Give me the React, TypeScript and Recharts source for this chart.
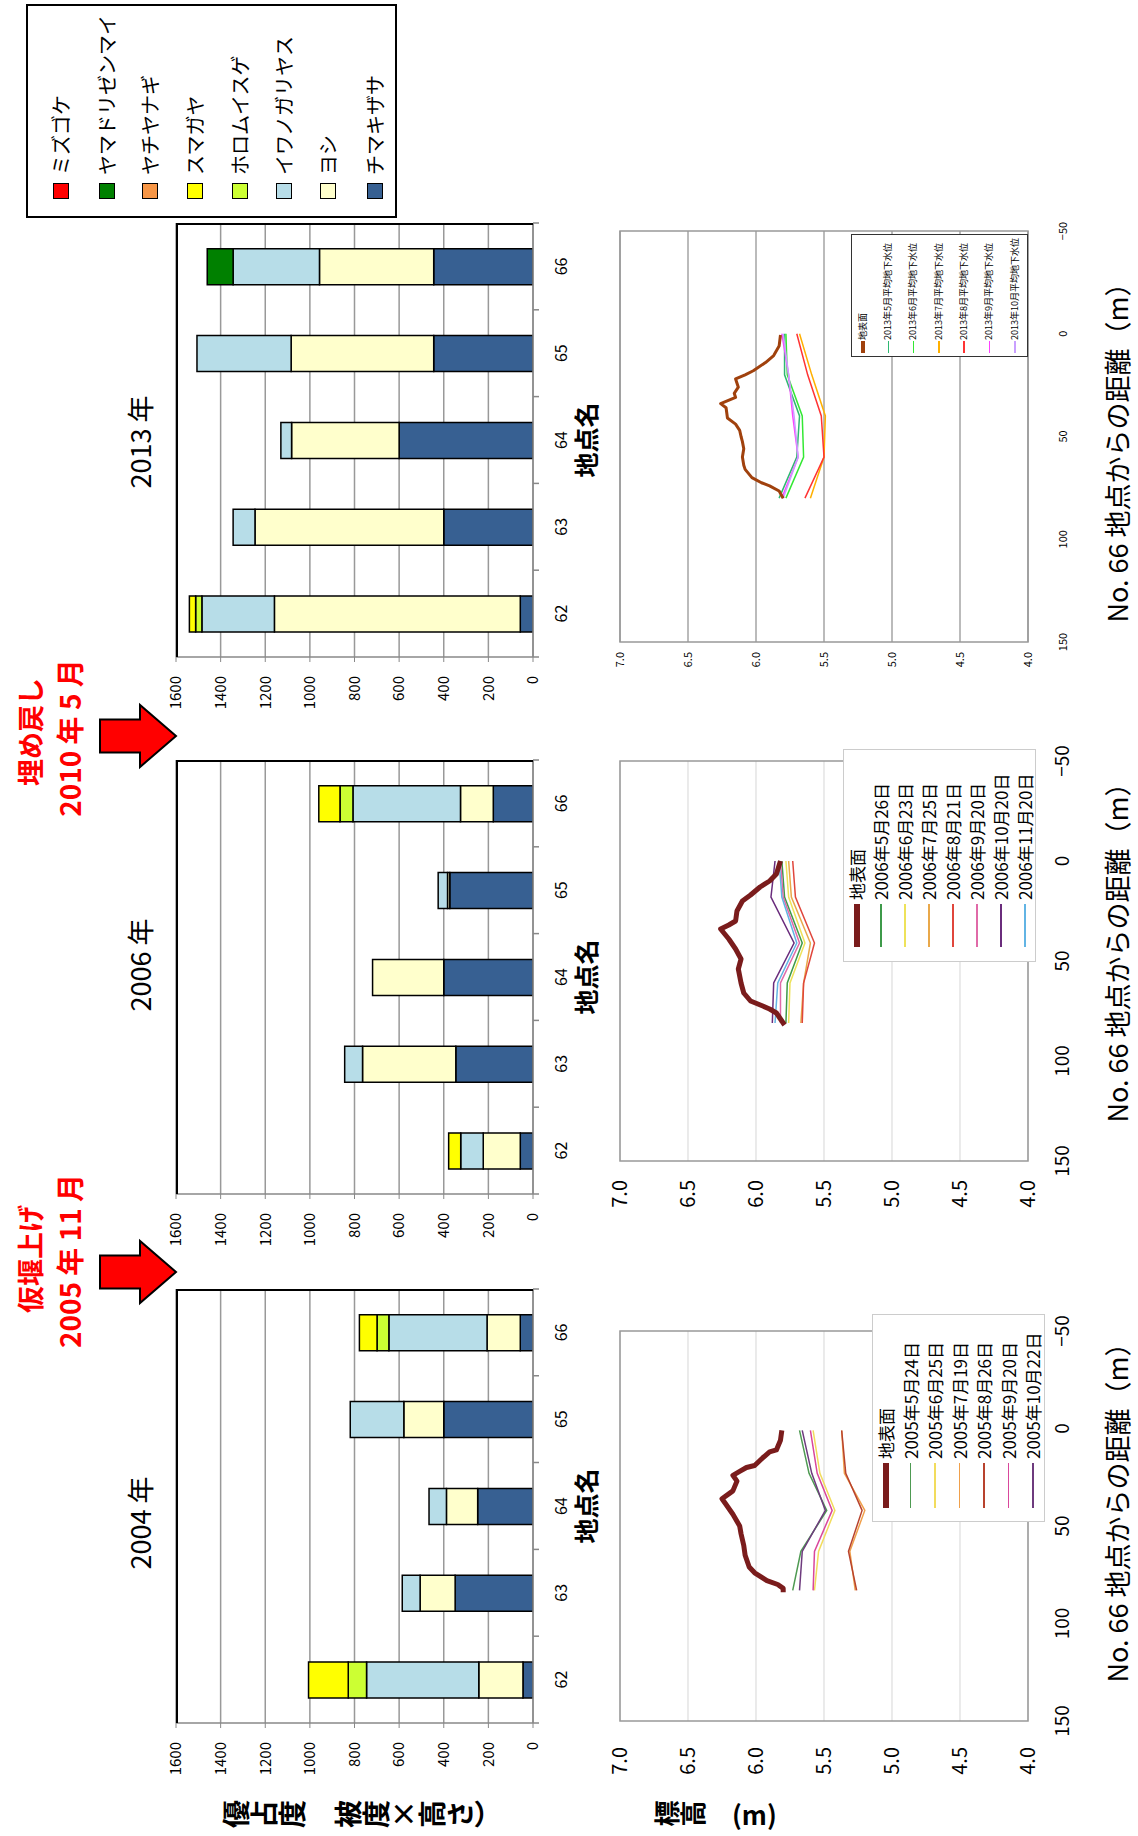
import React from 'react';
import { BarChart, Bar, LineChart, Line, XAxis, YAxis, CartesianGrid, ReferenceArea } from 'recharts';

const FONT = '"Noto Sans CJK JP", "Noto Sans", sans-serif';

// ---- vegetation cover (優占度) ----
const SITES = ['62', '63', '64', '65', '66'];
// stack order, from the base of each bar
const SPECIES = ['チマキザサ', 'ヨシ', 'イワノガリヤス', 'ホロムイスゲ', 'スマガヤ', 'ヤチヤナギ', 'ヤマドリゼンマイ', 'ミズゴケ'];
const SPECIES_COLORS = ['#376092', '#FFFFCC', '#B7DDE8', '#CCFF33', '#FFFF00', '#F79646', '#008000', '#FF0000'];

const COVER_2004 = [
  [45, 349, 248, 400, 57],
  [198, 157, 140, 179, 149],
  [503, 80, 78, 240, 440],
  [82, 0, 0, 0, 53],
  [178, 0, 0, 0, 79],
  [0, 0, 0, 0, 0],
  [0, 0, 0, 0, 0],
  [0, 0, 0, 0, 0],
];
const COVER_2006 = [
  [57, 346, 400, 373, 178],
  [166, 418, 319, 10, 147],
  [101, 80, 0, 42, 482],
  [0, 0, 0, 0, 58],
  [54, 0, 0, 0, 95],
  [0, 0, 0, 0, 0],
  [0, 0, 0, 0, 0],
  [0, 0, 0, 0, 0],
];
const COVER_2013 = [
  [57, 400, 600, 445, 445],
  [1102, 846, 482, 639, 512],
  [325, 98, 48, 422, 387],
  [28, 0, 0, 0, 0],
  [28, 0, 0, 0, 0],
  [0, 0, 0, 0, 0],
  [0, 0, 0, 0, 116],
  [0, 0, 0, 0, 0],
];
const COVER_TICKS = [0, 200, 400, 600, 800, 1000, 1200, 1400, 1600];

// ---- ground surface & groundwater (標高) ----
const DIST_TICKS = [-50, 0, 50, 100, 150];
const LEVEL_TICKS = [4, 4.5, 5, 5.5, 6, 6.5, 7];

const GROUND_D_2005 = [1, 6, 11, 12, 15, 19, 20, 22, 24, 27, 32, 33, 36, 39, 44, 50, 54, 60, 65, 71, 74, 78, 80, 82, 84];
const GROUND_V_2005 = [5.81, 5.82, 5.85, 5.9, 5.95, 6.01, 6.07, 6.12, 6.17, 6.14, 6.17, 6.19, 6.25, 6.22, 6.17, 6.12, 6.11, 6.09, 6.08, 6.05, 6.01, 5.92, 5.84, 5.8, 5.8];
const WELL_D_2005 = [1, 23, 42, 63, 83];
const LEVEL_NAMES_2005 = ['2005年5月24日', '2005年6月25日', '2005年7月19日', '2005年8月26日', '2005年9月20日', '2005年10月22日'];
const LEVEL_2005 = [
  [5.68, 5.61, 5.48, 5.67, 5.73],
  [5.58, 5.53, 5.42, 5.54, 5.57],
  [5.37, 5.35, 5.2, 5.31, 5.27],
  [5.37, 5.34, 5.22, 5.32, 5.26],
  [5.6, 5.55, 5.44, 5.57, 5.58],
  [5.66, 5.59, 5.49, 5.66, 5.68],
];
const COLORS_2005 = ['#4E9A52', '#F2DC5D', '#F0A04B', '#B8432E', '#D9479C', '#6E3B7E'];

const GROUND_D_2006 = [0, 6.5, 10, 13, 17, 20, 25, 30, 32, 34, 39, 44, 49, 54, 61, 66, 70, 72.5, 74, 76, 79, 82];
const GROUND_V_2006 = [5.82, 5.85, 5.9, 5.97, 6.04, 6.1, 6.14, 6.15, 6.2, 6.26, 6.2, 6.15, 6.11, 6.13, 6.11, 6.09, 6.04, 5.95, 5.9, 5.85, 5.82, 5.79];
const WELL_D_2006 = [0, 18, 41, 61, 81];
const LEVEL_NAMES_2006 = ['2006年5月26日', '2006年6月23日', '2006年7月25日', '2006年8月21日', '2006年9月20日', '2006年10月20日', '2006年11月20日'];
const LEVEL_2006 = [
  [5.81, 5.79, 5.66, 5.77, 5.78],
  [5.78, 5.76, 5.64, 5.75, 5.76],
  [5.76, 5.74, 5.6, 5.65, 5.67],
  [5.73, 5.71, 5.57, 5.65, 5.66],
  [5.82, 5.8, 5.68, 5.82, 5.82],
  [5.86, 5.89, 5.72, 5.87, 5.88],
  [5.83, 5.81, 5.7, 5.84, 5.86],
];
const COLORS_2006 = ['#3E9A4A', '#EEE25A', '#E9A84A', '#E0463C', '#E06AA8', '#6A2C7C', '#62B4E4'];

const GROUND_D_2013 = [0.6, 6, 10.6, 14, 18, 20, 22, 26, 29, 31, 34, 36, 41, 44, 47, 50, 52.5, 56, 60, 64, 66, 70, 72.5, 74, 76.5, 80];
const GROUND_V_2013 = [5.82, 5.83, 5.87, 5.93, 6.02, 6.08, 6.15, 6.13, 6.16, 6.15, 6.26, 6.22, 6.21, 6.15, 6.12, 6.11, 6.1, 6.09, 6.1, 6.09, 6.08, 6.03, 5.96, 5.9, 5.83, 5.8];
const WELL_D_2013 = [0, 20, 40, 60, 80];
const LEVEL_NAMES_2013 = ['2013年5月平均地下水位', '2013年6月平均地下水位', '2013年7月平均地下水位', '2013年8月平均地下水位', '2013年9月平均地下水位', '2013年10月平均地下水位'];
const LEVEL_2013 = [
  [5.79, 5.79, 5.68, 5.7, 5.83],
  [5.78, 5.77, 5.66, 5.65, 5.78],
  [5.68, 5.59, 5.49, 5.5, 5.6],
  [5.7, 5.62, 5.52, 5.5, 5.64],
  [5.81, 5.76, 5.73, 5.69, 5.81],
  [5.8, 5.76, 5.72, 5.69, 5.8],
];
const COLORS_2013 = ['#2EB872', '#33E833', '#FFB000', '#FF3333', '#FF40FF', '#C9A0FF'];

// ---- layout (landscape, rotated afterwards) ----
const LAND_W = 1836;
const LAND_H = 1138;
const BAR_TOP = 176;
const BAR_H = 357;
const BAR_W = 434;
const BAR_YW = 60;
const BAR_MT = 22;
const LV_TOP = 620;
const LV_H = 408;
const LV_MT = 26;

const toRows = (cover: number[][]) =>
  SITES.map((site, i) => {
    const row: Record<string, string | number | null> = { site };
    cover.forEach((vals, k) => {
      row[`s${k}`] = vals[i] > 0 ? vals[i] : null;
    });
    return row;
  });

const SiteTick = (props: any) => {
  const { x, y, payload, index } = props;
  const half = BAR_W / SITES.length / 2;
  return (
    <g>
      <line x1={x - half} x2={x - half} y1={y - 8} y2={y - 2} stroke="#888" strokeWidth={1.5} />
      {index === SITES.length - 1 && (
        <line x1={x + half} x2={x + half} y1={y - 8} y2={y - 2} stroke="#888" strokeWidth={1.5} />
      )}
      <text x={x} y={y + 19} textAnchor="middle" dominantBaseline="central" fontSize={16} fontFamily={FONT} fill="#000">
        {payload.value}
      </text>
    </g>
  );
};

function CoverChart({ cover, plotLeft }: { cover: number[][]; plotLeft: number }) {
  const data = toRows(cover);
  return (
    <div style={{ position: 'absolute', left: plotLeft - 10 - BAR_YW, top: BAR_TOP - BAR_MT }}>
      <BarChart
        width={10 + BAR_YW + BAR_W + 10}
        height={BAR_MT + BAR_H + 30 + 10}
        data={data}
        margin={{ top: BAR_MT, right: 10, bottom: 10, left: 10 }}
        barSize={36}
      >
        <CartesianGrid vertical={false} stroke="#999" strokeWidth={1.5} />
        <XAxis
          dataKey="site"
          height={30}
          interval={0}
          axisLine={{ stroke: '#888', strokeWidth: 1.5 }}
          tickLine={false}
          tickSize={6}
          tickMargin={2}
          tick={<SiteTick />}
        />
        <YAxis
          domain={[0, 1600]}
          ticks={COVER_TICKS}
          width={BAR_YW}
          allowDataOverflow
          axisLine={{ stroke: '#888', strokeWidth: 1.5 }}
          tickLine={{ stroke: '#888' }}
          tickSize={5}
          tickMargin={14}
          tick={{ fontSize: 15, fill: '#000', fontFamily: FONT }}
        />
        {SPECIES.map((name, k) => (
          <Bar
            key={name}
            dataKey={`s${k}`}
            name={name}
            stackId="a"
            fill={SPECIES_COLORS[k]}
            stroke="#000"
            strokeWidth={1.5}
            isAnimationActive={false}
          />
        ))}
      </BarChart>
      <div
        style={{
          position: 'absolute',
          left: 10 + BAR_YW,
          top: BAR_MT,
          width: BAR_W,
          height: BAR_H,
          borderTop: '2px solid #000',
          borderRight: '2px solid #000',
          boxSizing: 'border-box',
          pointerEvents: 'none',
        }}
      />
    </div>
  );
}

const fmtDist = (d: number) => (d < 0 ? `−${Math.abs(d)}` : String(d));

interface LevelProps {
  plotLeft: number;
  plotWidth: number;
  groundD: number[];
  groundV: number[];
  groundColor: string;
  groundWidth: number;
  wellD: number[];
  levels: number[][];
  names: string[];
  colors: string[];
  small?: boolean;
  yMargin: number;
}

function LevelChart(p: LevelProps) {
  const ground = p.groundD.map((d, i) => ({ d, v: p.groundV[i] }));
  const YW = 70;
  const MR = 30;
  const fs = p.small ? 11 : 20;
  return (
    <div style={{ position: 'absolute', left: p.plotLeft - 10 - YW, top: LV_TOP - LV_MT }}>
      <LineChart width={10 + YW + p.plotWidth + MR} height={LV_MT + LV_H + 60} margin={{ top: LV_MT, right: MR, bottom: 0, left: 10 }}>
        <CartesianGrid vertical={false} stroke={p.small ? '#bbb' : '#ddd'} strokeWidth={p.small ? 2 : 1.2} />
        <ReferenceArea x1={-50} x2={150} y1={4} y2={7} fill="none" stroke="#999" strokeWidth={1.5} />
        <XAxis
          type="number"
          dataKey="d"
          domain={[-50, 150]}
          ticks={DIST_TICKS}
          reversed
          allowDataOverflow
          height={60}
          axisLine={false}
          tickLine={false}
          tickMargin={p.small ? 25 : 22}
          tick={{ fontSize: p.small ? 11 : 19, fill: '#000', fontFamily: FONT }}
          tickFormatter={fmtDist}
        />
        <YAxis
          type="number"
          domain={[4, 7]}
          ticks={LEVEL_TICKS}
          width={YW}
          allowDataOverflow
          axisLine={false}
          tickLine={false}
          tickMargin={p.yMargin}
          tick={{ fontSize: fs, fill: '#000', fontFamily: FONT }}
          tickFormatter={(v: number) => v.toFixed(1)}
        />
        {p.levels.map((vals, k) => (
          <Line
            key={p.names[k]}
            name={p.names[k]}
            data={p.wellD.map((d, i) => ({ d, v: vals[i] }))}
            dataKey="v"
            type="linear"
            stroke={p.colors[k]}
            strokeWidth={1.5}
            dot={false}
            isAnimationActive={false}
          />
        ))}
        <Line
          name="地表面"
          data={ground}
          dataKey="v"
          type="linear"
          stroke={p.groundColor}
          strokeWidth={p.groundWidth}
          strokeLinejoin="round"
          dot={false}
          isAnimationActive={false}
        />
      </LineChart>
    </div>
  );
}

interface LegendProps {
  x: number;
  y: number;
  w: number;
  h: number;
  rowStart: number;
  rowGap: number;
  sampleX: number;
  sampleW: number;
  textX: number;
  fontSize: number;
  border: string;
  names: string[];
  colors: string[];
  widths: number[];
}

function LevelLegend(l: LegendProps) {
  return (
    <div
      style={{
        position: 'absolute',
        left: l.x,
        top: l.y,
        width: l.w,
        height: l.h,
        border: l.border,
        background: '#fff',
        boxSizing: 'border-box',
      }}
    >
      {l.names.map((name, i) => {
        const cy = l.rowStart + i * l.rowGap;
        return (
          <React.Fragment key={name}>
            <div
              style={{
                position: 'absolute',
                left: l.sampleX,
                top: cy - l.widths[i] / 2,
                width: l.sampleW,
                height: l.widths[i],
                background: l.colors[i],
              }}
            />
            <div
              style={{
                position: 'absolute',
                left: l.textX,
                top: cy - l.fontSize * 0.7,
                height: l.fontSize * 1.4,
                lineHeight: `${l.fontSize * 1.4}px`,
                fontSize: l.fontSize,
                whiteSpace: 'nowrap',
                color: '#000',
              }}
            >
              {name}
            </div>
          </React.Fragment>
        );
      })}
    </div>
  );
}

function Arrow({ cx }: { cx: number }) {
  return (
    <svg style={{ position: 'absolute', left: cx - 40, top: 98 }} width={80} height={80}>
      <polygon points="23.5,2 56.5,2 56.5,42 71,42 40,78 9,42 23.5,42" fill="#FF0000" stroke="#000" strokeWidth={2} />
    </svg>
  );
}

function Label({ text, cx, cy, size, bold, color }: { text: string; cx: number; cy: number; size: number; bold?: boolean; color?: string }) {
  return (
    <div
      style={{
        position: 'absolute',
        left: cx - 300,
        width: 600,
        top: cy - size * 0.6,
        height: size * 1.2,
        lineHeight: `${size * 1.2}px`,
        textAlign: 'center',
        fontSize: size,
        fontWeight: bold ? 'bold' : 'normal',
        color: color || '#000',
        whiteSpace: 'nowrap',
      }}
    >
      {text}
    </div>
  );
}

const BAR_LEFTS = [113, 642, 1179];
const YEAR_TITLES = ['2004 年', '2006 年', '2013 年'];
const TITLE_CX = [313, 871, 1394];

export default function App() {
  const legendRows = [59, 105, 148, 193, 238, 282, 326, 373];
  const legendOrder = [...SPECIES].reverse();
  const legendColors = [...SPECIES_COLORS].reverse();
  return (
    <div style={{ position: 'absolute', left: 0, top: 0, width: LAND_H, height: LAND_W, overflow: 'hidden', background: '#fff' }}>
      <div
        style={{
          position: 'absolute',
          left: 0,
          top: 0,
          width: LAND_W,
          height: LAND_H,
          transformOrigin: '0 0',
          transform: `translateY(${LAND_W}px) rotate(-90deg)`,
          fontFamily: FONT,
          background: '#fff',
        }}
      >
        {YEAR_TITLES.map((t, i) => (
          <Label key={t} text={t} cx={TITLE_CX[i]} cy={140} size={27} />
        ))}

        <CoverChart cover={COVER_2004} plotLeft={BAR_LEFTS[0]} />
        <CoverChart cover={COVER_2006} plotLeft={BAR_LEFTS[1]} />
        <CoverChart cover={COVER_2013} plotLeft={BAR_LEFTS[2]} />
        {BAR_LEFTS.map((l) => (
          <Label key={l} text="地点名" cx={l + BAR_W / 2} cy={585} size={25} bold />
        ))}

        <div
          style={{
            position: 'absolute',
            left: 8,
            top: 222,
            writingMode: 'vertical-rl',
            fontSize: 28,
            lineHeight: 1,
            fontWeight: 'bold',
            whiteSpace: 'nowrap',
          }}
        >
          優占度　被度×高さ）
        </div>

        <Arrow cx={564} />
        <Arrow cx={1100} />
        <Label text="仮堰上げ" cx={577} cy={30} size={27} bold color="#FF0000" />
        <Label text="2005 年 11 月" cx={575} cy={70} size={28} bold color="#FF0000" />
        <Label text="埋め戻し" cx={1104} cy={30} size={27} bold color="#FF0000" />
        <Label text="2010 年 5 月" cx={1098} cy={70} size={28} bold color="#FF0000" />

        <div
          style={{
            position: 'absolute',
            left: 1618,
            top: 26,
            width: 214,
            height: 371,
            border: '2px solid #000',
            boxSizing: 'border-box',
          }}
        >
          {legendOrder.map((name, i) => (
            <React.Fragment key={name}>
              <div
                style={{
                  position: 'absolute',
                  left: 17,
                  top: legendRows[i] - 26 - 8,
                  width: 16,
                  height: 16,
                  background: legendColors[i],
                  border: '1.5px solid #000',
                  boxSizing: 'border-box',
                }}
              />
              <div
                style={{
                  position: 'absolute',
                  left: 41,
                  top: legendRows[i] - 26 - 15,
                  height: 30,
                  lineHeight: '30px',
                  fontSize: 20,
                  whiteSpace: 'nowrap',
                }}
              >
                {name}
              </div>
            </React.Fragment>
          ))}
        </div>

        <LevelChart
          plotLeft={115}
          plotWidth={390}
          groundD={GROUND_D_2005}
          groundV={GROUND_V_2005}
          groundColor="#7A1C1C"
          groundWidth={5}
          wellD={WELL_D_2005}
          levels={LEVEL_2005}
          names={LEVEL_NAMES_2005}
          colors={COLORS_2005}
          yMargin={20}
        />
        <LevelChart
          plotLeft={675}
          plotWidth={400}
          groundD={GROUND_D_2006}
          groundV={GROUND_V_2006}
          groundColor="#7A1C1C"
          groundWidth={5}
          wellD={WELL_D_2006}
          levels={LEVEL_2006}
          names={LEVEL_NAMES_2006}
          colors={COLORS_2006}
          yMargin={13}
        />
        <LevelChart
          plotLeft={1194}
          plotWidth={411}
          groundD={GROUND_D_2013}
          groundV={GROUND_V_2013}
          groundColor="#A0410D"
          groundWidth={3}
          wellD={WELL_D_2013}
          levels={LEVEL_2013}
          names={LEVEL_NAMES_2013}
          colors={COLORS_2013}
          small
          yMargin={4}
        />

        <LevelLegend
          x={314}
          y={872}
          w={208}
          h={173}
          rowStart={13}
          rowGap={24.5}
          sampleX={13}
          sampleW={45}
          textX={62}
          fontSize={17}
          border="1.5px solid #ccc"
          names={['地表面', ...LEVEL_NAMES_2005]}
          colors={['#7A1C1C', ...COLORS_2005]}
          widths={[6, ...COLORS_2005.map(() => 1.5)]}
        />
        <LevelLegend
          x={874}
          y={843}
          w={213}
          h={193}
          rowStart={13}
          rowGap={24}
          sampleX={14}
          sampleW={43}
          textX={61}
          fontSize={17}
          border="1.5px solid #ccc"
          names={['地表面', ...LEVEL_NAMES_2006]}
          colors={['#7A1C1C', ...COLORS_2006]}
          widths={[6, ...COLORS_2006.map(() => 1.5)]}
        />
        <LevelLegend
          x={1479}
          y={851}
          w={123}
          h={177}
          rowStart={11}
          rowGap={25.3}
          sampleX={3}
          sampleW={12}
          textX={16}
          fontSize={9}
          border="1.5px solid #333"
          names={['地表面', ...LEVEL_NAMES_2013]}
          colors={['#A0410D', ...COLORS_2013]}
          widths={[4, ...COLORS_2013.map(() => 1.5)]}
        />

        <Label text="No. 66 地点からの距離（m）" cx={330} cy={1117} size={27} />
        <Label text="No. 66 地点からの距離（m）" cx={890} cy={1117} size={27} />
        <Label text="No. 66 地点からの距離（m）" cx={1390} cy={1117} size={27} />

        <div
          style={{
            position: 'absolute',
            left: 9,
            top: 654,
            writingMode: 'vertical-rl',
            fontSize: 26,
            lineHeight: 1,
            fontWeight: 'bold',
            whiteSpace: 'nowrap',
          }}
        >
          標高　(m)
        </div>
      </div>
    </div>
  );
}
